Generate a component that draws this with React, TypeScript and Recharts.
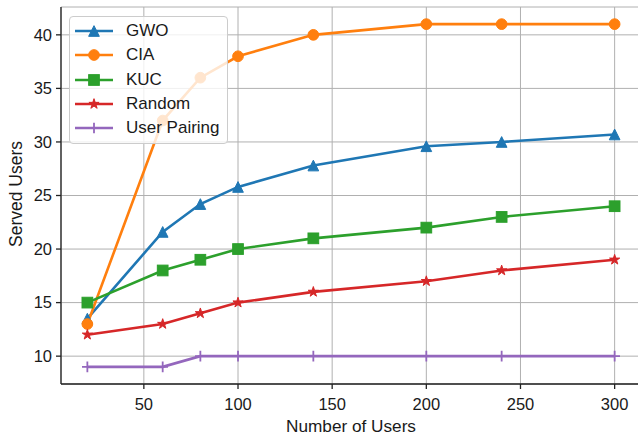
import React from 'react';
import { LineChart, Line, XAxis, YAxis, CartesianGrid, Legend, Label } from 'recharts';

const users = [20, 60, 80, 100, 140, 200, 240, 300];
const gwo = [13.5, 21.6, 24.2, 25.8, 27.8, 29.6, 30.0, 30.7];
const cia = [13, 32, 36, 38, 40, 41, 41, 41];
const kuc = [15, 18, 19, 20, 21, 22, 23, 24];
const randomSel = [12, 13, 14, 15, 16, 17, 18, 19];
const userPairing = [9, 9, 10, 10, 10, 10, 10, 10];
const xTicks = [50, 100, 150, 200, 250, 300];
const yTicks = [10, 15, 20, 25, 30, 35, 40];

const data = users.map((u, i) => ({
  users: u,
  GWO: gwo[i],
  CIA: cia[i],
  KUC: kuc[i],
  Random: randomSel[i],
  'User Pairing': userPairing[i],
}));

const FONT = '"Liberation Sans", Arial, sans-serif';
const TXT = '#1a1a1a';
const S = 5.35;

type MarkerKind = 'tri' | 'circle' | 'square' | 'star' | 'plus';

function marker(kind: MarkerKind, cx: number, cy: number, color: string, key?: any) {
  if (kind === 'tri') {
    return <path key={key} d={`M${cx},${cy - S} L${cx - S},${cy + S} L${cx + S},${cy + S} Z`} fill={color} stroke={color} strokeWidth={1} />;
  }
  if (kind === 'circle') {
    return <circle key={key} cx={cx} cy={cy} r={S} fill={color} stroke={color} strokeWidth={1} />;
  }
  if (kind === 'square') {
    return <rect key={key} x={cx - S} y={cy - S} width={2 * S} height={2 * S} fill={color} stroke={color} strokeWidth={1} />;
  }
  if (kind === 'star') {
    const pts: string[] = [];
    for (let i = 0; i < 10; i++) {
      const r = i % 2 === 0 ? S : S * 0.381966;
      const a = -Math.PI / 2 + (i * Math.PI) / 5;
      pts.push(`${cx + r * Math.cos(a)},${cy + r * Math.sin(a)}`);
    }
    return <polygon key={key} points={pts.join(' ')} fill={color} stroke={color} strokeWidth={1} />;
  }
  return (
    <path key={key} d={`M${cx - S},${cy} L${cx + S},${cy} M${cx},${cy - S} L${cx},${cy + S}`} stroke={color} strokeWidth={1.8} fill="none" />
  );
}

const series: { key: string; color: string; kind: MarkerKind }[] = [
  { key: 'GWO', color: '#1f77b4', kind: 'tri' },
  { key: 'CIA', color: '#ff7f0e', kind: 'circle' },
  { key: 'KUC', color: '#2ca02c', kind: 'square' },
  { key: 'Random', color: '#d62728', kind: 'star' },
  { key: 'User Pairing', color: '#9467bd', kind: 'plus' },
];

const renderLegend = () => (
  <div
    style={{
      boxSizing: 'border-box',
      width: 159,
      height: 128,
      border: '1px solid #cccccc',
      borderRadius: 4,
      background: 'rgba(255,255,255,0.8)',
      paddingTop: 2,
      fontFamily: FONT,
      fontSize: 17,
      color: TXT,
    }}
  >
    {series.map((s) => (
      <div key={s.key} style={{ height: 24.3, display: 'flex', alignItems: 'center' }}>
        <svg width={56} height={24} style={{ display: 'block' }}>
          <line x1={5} y1={12} x2={43} y2={12} stroke={s.color} strokeWidth={2.6} />
          {marker(s.kind, 24, 12, s.color)}
        </svg>
        <span style={{ whiteSpace: 'nowrap' }}>{s.key}</span>
      </div>
    ))}
  </div>
);

export default function App() {
  return (
    <div style={{ position: 'absolute', left: 0, top: 0, width: 638, height: 437, overflow: 'hidden', background: '#fff' }}>
      <LineChart width={650} height={437} data={data} margin={{ top: 7, right: 9, bottom: 0, left: 0 }}>
        <CartesianGrid stroke="#b0b0b0" strokeWidth={1} />
        <XAxis
          dataKey="users"
          type="number"
          domain={[6, 314]}
          ticks={xTicks}
          allowDataOverflow
          height={53}
          tickSize={5}
          tickMargin={9}
          stroke="#222"
          strokeWidth={1.3}
          tick={{ fill: TXT, fontSize: 16.5, fontFamily: FONT }}
        >
          <Label value="Number of Users" position="insideBottom" offset={5} style={{ fill: TXT, fontSize: 17.2, fontFamily: FONT }} />
        </XAxis>
        <XAxis xAxisId="top" orientation="top" type="number" domain={[6, 314]} height={0} tick={false} tickLine={false} stroke="#222" strokeWidth={1.3} />
        <YAxis
          type="number"
          domain={[7.4, 42.6]}
          ticks={yTicks}
          allowDataOverflow
          width={61}
          tickSize={5}
          tickMargin={4}
          stroke="#222"
          strokeWidth={1.3}
          tick={{ fill: TXT, fontSize: 16.5, fontFamily: FONT }}
        >
          <Label
            content={() => (
              <text
                x={0}
                y={0}
                transform="translate(21.5,194) rotate(-90)"
                textAnchor="middle"
                style={{ fill: TXT, fontSize: 17.5, fontFamily: FONT }}
              >
                Served Users
              </text>
            )}
          />
        </YAxis>
        <Legend
          layout="vertical"
          align="center"
          verticalAlign="middle"
          wrapperStyle={{ left: 69, top: 16, width: 159, height: 128 }}
          content={renderLegend}
        />
        {series.map((s) => (
          <Line
            key={s.key}
            dataKey={s.key}
            stroke={s.color}
            strokeWidth={2.6}
            isAnimationActive={false}
            dot={(p: any) => marker(s.kind, p.cx, p.cy, s.color, `${s.key}-${p.index}`)}
            activeDot={false}
          />
        ))}
      </LineChart>
    </div>
  );
}
